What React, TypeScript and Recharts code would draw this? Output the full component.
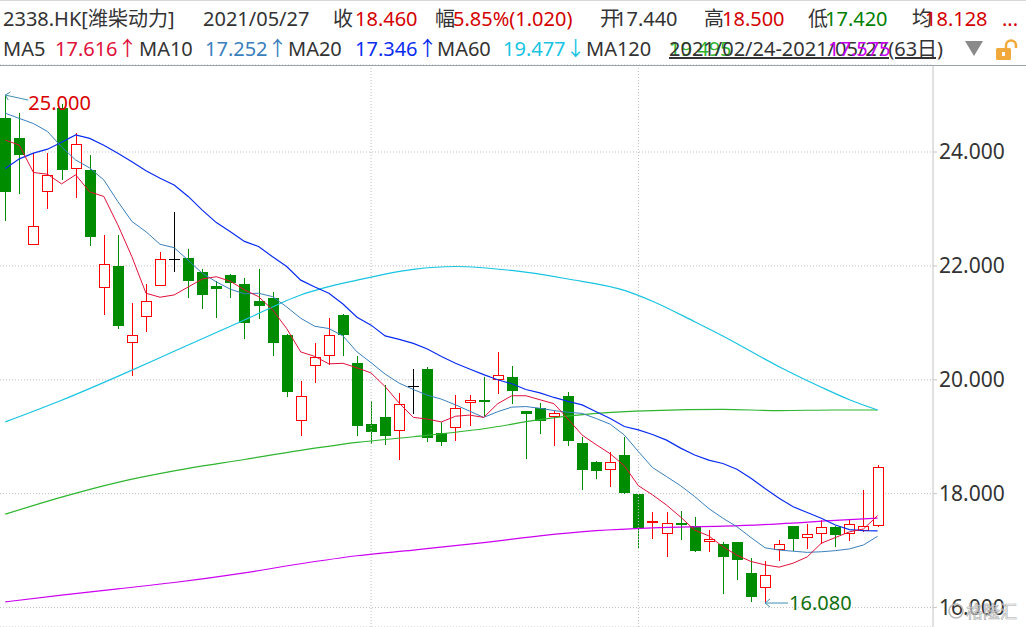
import { ComposedChart, Bar, Line, XAxis, YAxis, CartesianGrid, ReferenceLine, ReferenceDot } from 'recharts'

// daily candles, 2021/02/24 - 2021/05/27 (63 sessions)
const OPEN = [
  24.6, 24.25, 22.36, 23.3, 24.78, 23.7, 23.68, 21.61, 22.0, 20.65,
  21.1, 21.65, 22.13, 22.14, 21.89, 21.64, 21.84, 21.69, 21.38, 21.44,
  20.79, 19.27, 20.25, 20.41, 21.14, 20.3, 19.22, 19.35, 19.1, 19.89,
  20.19, 19.06, 19.15, 19.59, 19.65, 20.0, 20.05, 19.45, 19.5, 19.34,
  19.72, 18.89, 18.56, 18.41, 18.68, 17.99, 17.49, 17.29, 17.49, 17.43,
  17.16, 17.12, 17.15, 16.61, 16.34, 17.01, 17.43, 17.22, 17.3, 17.42,
  17.3, 17.34, 17.44,
]
const HIGH = [
  25.0, 24.68, 23.99, 23.99, 24.85, 24.33, 23.95, 22.54, 22.54, 21.34,
  21.69, 22.24, 22.95, 22.3, 21.94, 21.73, 21.85, 21.78, 21.94, 21.54,
  20.8, 19.98, 20.65, 21.09, 21.15, 20.41, 19.63, 19.9, 19.77, 20.19,
  20.23, 19.26, 19.73, 19.73, 20.05, 20.49, 20.25, 19.46, 19.59, 19.46,
  19.79, 19.0, 18.57, 18.73, 19.0, 18.0, 17.68, 17.68, 17.7, 17.59,
  17.37, 17.15, 17.16, 16.87, 16.82, 17.19, 17.44, 17.47, 17.53, 17.43,
  17.53, 18.07, 18.5,
]
const LOW = [
  22.79, 23.26, 22.36, 23.0, 23.5, 23.2, 22.35, 21.14, 20.9, 20.06,
  20.84, 21.65, 21.9, 21.44, 21.25, 21.09, 21.44, 20.71, 21.06, 20.41,
  19.69, 19.02, 19.94, 20.26, 20.41, 19.02, 18.88, 18.86, 18.6, 19.4,
  18.91, 18.83, 18.93, 19.18, 19.34, 19.75, 19.58, 18.61, 19.05, 18.83,
  18.84, 18.07, 18.25, 18.11, 17.99, 17.05, 17.21, 16.88, 17.19, 16.98,
  16.97, 16.24, 16.48, 16.1, 16.08, 16.81, 16.99, 17.02, 17.11, 17.07,
  17.17, 17.33, 17.42,
]
const CLOSE = [
  23.3, 23.95, 22.7, 23.6, 23.69, 24.14, 22.5, 22.03, 20.95, 20.78,
  21.38, 22.13, 22.13, 21.74, 21.49, 21.6, 21.7, 21.0, 21.3, 20.65,
  19.79, 19.71, 20.4, 20.78, 20.79, 19.19, 19.09, 19.02, 19.57, 19.89,
  18.97, 18.9, 19.5, 19.64, 19.64, 20.08, 19.81, 19.4, 19.27, 19.42,
  18.93, 18.42, 18.4, 18.55, 18.02, 17.4, 17.52, 17.48, 17.45, 17.0,
  17.2, 16.88, 16.84, 16.19, 16.58, 17.11, 17.21, 17.29, 17.41, 17.28,
  17.46, 17.43, 18.46,
]

const MA5 = [
  24.21, 24.12, 23.64, 23.61, 23.44, 23.6, 23.3, 23.22, 22.72, 22.16,
  21.52, 21.45, 21.49, 21.63, 21.77, 21.81, 21.73, 21.58, 21.46, 21.23,
  20.9, 20.49, 20.41, 20.28, 20.29, 20.21, 20.12, 19.88, 19.59, 19.34,
  19.31, 19.26, 19.36, 19.38, 19.34, 19.58, 19.72, 19.72, 19.65, 19.58,
  19.31, 19.03, 18.86, 18.7, 18.49, 18.14, 17.98, 17.8, 17.59, 17.36,
  17.26, 17.07, 16.92, 16.81, 16.75, 16.71, 16.78, 16.89, 17.13, 17.23,
  17.33, 17.38, 17.616,
]
const MA10 = [
  24.68, 24.59, 24.5, 24.36, 24.09, 23.86, 23.72, 23.51, 23.13, 22.78,
  22.6, 22.38, 22.32, 22.1, 21.87, 21.72, 21.59, 21.51, 21.52, 21.46,
  21.28, 21.08, 20.94, 20.9, 20.77, 20.49, 20.3, 20.1, 19.94, 19.83,
  19.73, 19.66, 19.56, 19.45, 19.34, 19.44, 19.52, 19.53, 19.5, 19.46,
  19.43, 19.41, 19.32, 19.22, 19.03, 18.74, 18.46, 18.3, 18.14, 17.95,
  17.74, 17.57, 17.42, 17.23, 17.05, 17.01, 16.99, 16.97, 16.98, 17.0,
  17.03, 17.1, 17.252,
]
const MA20 = [
  23.71, 23.88, 23.98, 24.05, 24.17, 24.3, 24.24, 24.12, 23.98, 23.83,
  23.67, 23.54, 23.42, 23.22, 22.98, 22.76, 22.6, 22.43, 22.34, 22.16,
  21.99, 21.75, 21.63, 21.52, 21.33, 21.1, 20.96, 20.77, 20.71, 20.64,
  20.54, 20.41, 20.29, 20.19, 20.09, 20.0, 19.93, 19.83, 19.77, 19.69,
  19.62, 19.56, 19.44, 19.32, 19.18, 19.12, 19.04, 18.94, 18.8, 18.68,
  18.59, 18.53, 18.43, 18.27, 18.09, 17.92, 17.77, 17.67, 17.57, 17.45,
  17.37, 17.35, 17.346,
]

// the slow averages were read at a few sessions only
const MA60_AT = [0, 4, 8, 12, 17, 21, 25, 29, 32, 36, 40, 44, 46, 49, 51, 55, 58, 60, 62]
const MA60 = [19.26, 19.64, 20.06, 20.5, 21.05, 21.49, 21.75, 21.94, 21.99, 21.92, 21.77, 21.57, 21.38, 21.02, 20.77, 20.23, 19.87, 19.65, 19.47]
const SLOW_AT = [0, 4, 8, 12, 17, 21, 25, 29, 34, 38, 42, 46, 51, 55, 59, 62]
const MA120 = [17.64, 17.94, 18.2, 18.4, 18.6, 18.76, 18.9, 19.0, 19.14, 19.3, 19.41, 19.46, 19.48, 19.46, 19.47, 19.47]
const MA250 = [16.1, 16.22, 16.33, 16.44, 16.61, 16.77, 16.91, 17.01, 17.14, 17.26, 17.35, 17.4, 17.43, 17.47, 17.53, 17.57]

const Y_TICKS = [16, 18, 20, 22, 24]
const MONTH_STARTS = [26, 45]

const UP = '#ff0000'
const DOWN = '#008c00'
const FONT = '"Noto Sans", "Noto Sans CJK SC", sans-serif'
const C = {
  ma5: '#e0103a',
  ma10: '#3a7fbd',
  ma20: '#0a2cf0',
  ma60: '#18c4e2',
  ma120: '#2fb52f',
  ma250: '#cc00f0',
  grid: '#bdbdbd',
  text: '#333333',
}

const data = OPEN.map((open, i) => ({
  i,
  open,
  high: HIGH[i],
  low: LOW[i],
  close: CLOSE[i],
  ma5: MA5[i],
  ma10: MA10[i],
  ma20: MA20[i],
}))
const ma60Data = MA60_AT.map((i, k) => ({ i, v: MA60[k] }))
const ma120Data = SLOW_AT.map((i, k) => ({ i, v: MA120[k] }))
const ma250Data = SLOW_AT.map((i, k) => ({ i, v: MA250[k] }))

const hiIdx = HIGH.indexOf(Math.max(...HIGH))
const loIdx = LOW.indexOf(Math.min(...LOW))

// eslint-disable-next-line @typescript-eslint/no-explicit-any
function Candle(props: any) {
  const { x, y, width, height, payload } = props
  const { open, close, high, low } = payload
  const top = Math.min(y, y + height)
  const bottom = Math.max(y, y + height)
  const k = (bottom - top) / (high - low)
  const py = (v: number) => top + (high - v) * k
  const left = Math.round(x + width / 2 - 5.5)
  const wx = left + 5.5
  const bTop = Math.round(py(Math.max(open, close)))
  const bBot = Math.round(py(Math.min(open, close)))
  const hY = Math.round(top)
  const lY = Math.round(bottom)
  if (open === close) {
    return (
      <g stroke="#000" strokeWidth={1}>
        <line x1={wx} x2={wx} y1={hY} y2={lY} />
        <line x1={left} x2={left + 11} y1={bTop + 0.5} y2={bTop + 0.5} />
      </g>
    )
  }
  if (close > open) {
    return (
      <g stroke={UP} strokeWidth={1} fill="none">
        {hY < bTop && <line x1={wx} x2={wx} y1={hY} y2={bTop} />}
        {lY > bBot && <line x1={wx} x2={wx} y1={bBot} y2={lY} />}
        <rect x={left + 0.5} y={bTop + 0.5} width={10} height={Math.max(bBot - bTop - 1, 1)} fill="#fff" />
      </g>
    )
  }
  return (
    <g>
      <line x1={wx} x2={wx} y1={hY} y2={lY} stroke={DOWN} strokeWidth={1} />
      <rect x={left} y={bTop} width={11} height={Math.max(bBot - bTop, 2)} fill={DOWN} />
    </g>
  )
}

// eslint-disable-next-line @typescript-eslint/no-explicit-any
function HighMark({ cx, cy }: any) {
  return (
    <g>
      <path d={`M${cx} ${cy} L${cx + 23} ${cy + 5} M${cx} ${cy} l5 -3 M${cx} ${cy} l3 5`} stroke="#3f8fb0" strokeWidth={1} fill="none" />
      <text x={cx + 23} y={cy + 15} fontSize={20} fill="#d80000" fontFamily={FONT}>
        {Math.max(...HIGH).toFixed(3)}
      </text>
    </g>
  )
}

// eslint-disable-next-line @typescript-eslint/no-explicit-any
function LowMark({ cx, cy }: any) {
  return (
    <g>
      <path d={`M${cx} ${cy} L${cx + 23} ${cy} M${cx} ${cy} l5 -4 M${cx} ${cy} l5 4`} stroke="#3f8fb0" strokeWidth={1} fill="none" />
      <text x={cx + 24} y={cy + 7} fontSize={20} fill="#107010" fontFamily={FONT}>
        {Math.min(...LOW).toFixed(3)}
      </text>
    </g>
  )
}

function Header() {
  const t = (x: number, y: number, s: string, fill = C.text) => (
    <text x={x} y={y} fill={fill}>{s}</text>
  )
  return (
    <svg width={1026} height={66} style={{ position: 'absolute', left: 0, top: 0 }} fontFamily={FONT} fontSize={20}>
      <line x1={0} x2={1026} y1={0.5} y2={0.5} stroke="#d8d8d8" />
      {t(3, 26, '2338.HK[潍柴动力]')}
      {t(203, 26, '2021/05/27')}
      {t(333, 26, '收')}
      {t(355, 26, '18.460', '#d40000')}
      {t(435, 26, '幅')}
      {t(453, 26, '5.85%(1.020)', '#d40000')}
      {t(600, 26, '开')}
      {t(615, 26, '17.440')}
      {t(704, 26, '高')}
      {t(722, 26, '18.500', '#d40000')}
      {t(808, 26, '低')}
      {t(825, 26, '17.420', '#008000')}
      {t(912, 26, '均')}
      {t(925, 26, '18.128', '#d40000')}
      {t(1002, 26, '...', '#d40000')}

      {t(3, 56, 'MA5')}
      {t(55, 56, '17.616↑', C.ma5)}
      {t(139, 56, 'MA10')}
      {t(205, 56, '17.252↑', C.ma10)}
      {t(288, 56, 'MA20')}
      {t(355, 56, '17.346↑', C.ma20)}
      {t(437, 56, 'MA60')}
      {t(503, 56, '19.477↓', C.ma60)}
      {t(586, 56, 'MA120')}
      {t(669, 56, '19.495', C.ma120)}
      <text x={669} y={56} fill={C.text} textDecoration="underline">2021/02/24-2021/05/27(63日)</text>
      {t(828, 56, '17.575', C.ma250)}
      <polygon points="965,41 983,41 974,56" fill="#8a8a8a" />
      <rect x={996} y={48} width={15} height={12} rx={1.5} fill="#f2a93b" />
      <rect x={1002} y={52} width={3} height={4} fill="#fff" />
      <path d="M1006 48 V45.5 a5 5 0 0 1 10 0 V48" stroke="#f2a93b" strokeWidth={2.5} fill="none" />
      <line x1={0} x2={1026} y1={65.5} y2={65.5} stroke="#9aa3ab" />
    </svg>
  )
}

export default function App() {
  return (
    <div style={{ position: 'fixed', left: 0, top: 0, width: 1026, height: 627, background: '#fff', overflow: 'hidden' }}>
      <ComposedChart width={1026} height={627} data={data} margin={{ top: 65, right: 0, bottom: 0, left: 0 }}>
        <CartesianGrid horizontal vertical={false} stroke={C.grid} strokeDasharray="1 2" />
        <XAxis dataKey="i" type="number" domain={[-0.377, 65.94]} allowDataOverflow hide />
        <YAxis
          orientation="right"
          width={93}
          domain={[15.659, 25.528]}
          ticks={Y_TICKS}
          allowDataOverflow
          tickFormatter={(v: number) => v.toFixed(3)}
          axisLine={{ stroke: '#c4c4c4' }}
          tickLine={{ stroke: '#c4c4c4' }}
          tickSize={4}
          tick={{ fontSize: 21, fill: C.text, fontFamily: FONT }}
        />
        {MONTH_STARTS.map((m) => (
          <ReferenceLine key={m} x={m} stroke={C.grid} strokeDasharray="1 2" />
        ))}
        <Bar dataKey={(d: { low: number; high: number }) => [d.low, d.high]} barSize={11} shape={Candle} isAnimationActive={false} />
        <Line data={ma250Data} dataKey="v" type="monotone" stroke={C.ma250} strokeWidth={1.2} dot={false} isAnimationActive={false} />
        <Line data={ma120Data} dataKey="v" type="monotone" stroke={C.ma120} strokeWidth={1.2} dot={false} isAnimationActive={false} />
        <Line data={ma60Data} dataKey="v" type="monotone" stroke={C.ma60} strokeWidth={1.2} dot={false} isAnimationActive={false} />
        <Line dataKey="ma20" type="linear" stroke={C.ma20} strokeWidth={1.2} dot={false} isAnimationActive={false} />
        <Line dataKey="ma10" type="linear" stroke={C.ma10} strokeWidth={1} dot={false} isAnimationActive={false} />
        <Line dataKey="ma5" type="linear" stroke={C.ma5} strokeWidth={1} dot={false} isAnimationActive={false} />
        <ReferenceDot x={hiIdx} y={HIGH[hiIdx]} r={0} ifOverflow="visible" shape={HighMark} />
        <ReferenceDot x={loIdx} y={LOW[loIdx]} r={0} ifOverflow="visible" shape={LowMark} />
      </ComposedChart>
      <Header />
      <svg width={80} height={24} style={{ position: 'absolute', left: 946, top: 600 }}>
        <circle cx={10} cy={11} r={7} fill="none" stroke="#b8b8b8" strokeWidth={1.5} />
        <text x={20} y={18} fontSize={17} fill="rgba(255,255,255,0.6)" stroke="#a8a8a8" strokeWidth={0.6} fontFamily={FONT}>
          格隆汇
        </text>
      </svg>
    </div>
  )
}
